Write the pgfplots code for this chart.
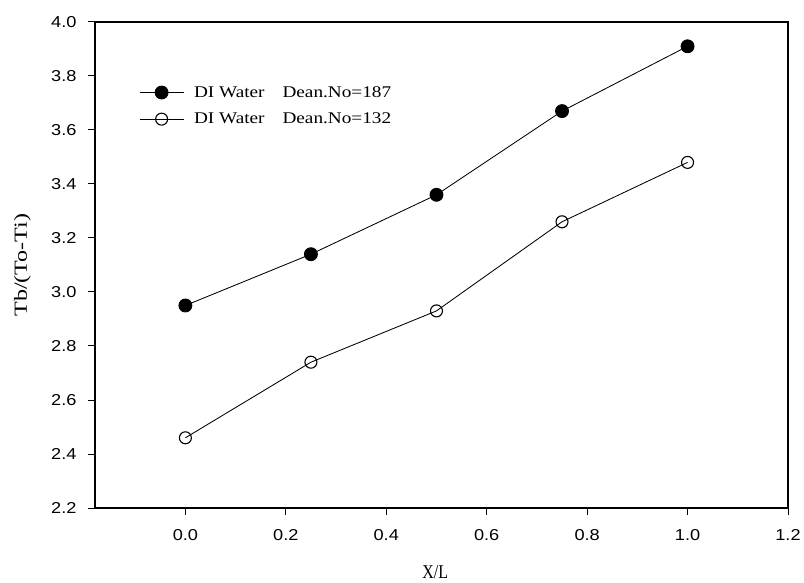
\documentclass[border=0pt]{standalone}
\usepackage{fontspec}
\setmainfont{Liberation Serif}
\newfontfamily\tickfont[FakeStretch=1.15]{Liberation Sans}
\newfontfamily\legfont[FakeStretch=1.18]{Liberation Serif}
\newfontfamily\xlabfont[FakeStretch=0.82]{Liberation Serif}
\newfontfamily\ylabfont[FakeStretch=1.3]{Liberation Serif}
\usepackage{pgfplots}
\pgfplotsset{compat=1.18}
\begin{document}
\begin{tikzpicture}
\begin{axis}[
  scale only axis,
  width=693bp, height=486bp,
  xmin=-0.18, xmax=1.2, ymin=2.2, ymax=4.0,
  xtick={0,0.2,0.4,0.6,0.8,1.0,1.2},
  ytick={2.2,2.4,2.6,2.8,3.0,3.2,3.4,3.6,3.8,4.0},
  xticklabel style={/pgf/number format/.cd,fixed,fixed zerofill,precision=1},
  yticklabel style={/pgf/number format/.cd,fixed,fixed zerofill,precision=1},
  /pgf/number format/assume math mode=true,
  ticklabel style={font=\tickfont\fontsize{15.8bp}{18bp}\selectfont},
  tick align=outside,
  major tick length=7bp,
  xtick pos=bottom, ytick pos=left,
  axis line style={line width=1.4bp},
  tick style={line width=1bp, black},
  xticklabel shift=11bp,
  yticklabel shift=8bp,
  xlabel={X/L}, ylabel={Tb/(To-Ti)},
  xlabel style={font=\xlabfont\fontsize{19.5bp}{22bp}\selectfont,
    at={(axis description cs:0.491,0)}, anchor=base, yshift=-70bp},
  ylabel style={font=\ylabfont\fontsize{18.5bp}{21bp}\selectfont,
    at={(axis description cs:-0.1046,0.5)}, anchor=center},
  legend style={draw=none, fill=none, at={(rel axis cs:0.0635,0.8687)}, anchor=north west,
    font=\legfont\fontsize{16.3bp}{19bp}\selectfont, row sep=14bp, inner sep=0pt,
    nodes={inner sep=0pt}, column sep=0pt},
  legend cell align=left,
  legend image code/.code={
    \draw[#1, mark repeat=2, mark phase=2] plot coordinates {(0bp,0bp) (22bp,0bp) (44bp,0bp)};
  },
  clip=false,
]
\addplot[black, line width=0.85bp, mark=*, mark size=6.5bp, mark options={fill=black}]
  coordinates {(0,2.95) (0.25,3.14) (0.5,3.36) (0.75,3.67) (1.0,3.91)};
\addlegendentry{\hspace{10bp}DI Water\hspace{1.1em}Dean.No=187}
\addplot[black, line width=0.85bp, mark=o, mark size=6bp, mark options={fill=white, line width=1.1bp}]
  coordinates {(0,2.46) (0.25,2.74) (0.5,2.93) (0.75,3.26) (1.0,3.48)};
\addlegendentry{\hspace{10bp}DI Water\hspace{1.1em}Dean.No=132}
\end{axis}
\useasboundingbox ([shift={(-95bp,-75bp)}]current axis.south west) rectangle ([shift={(16bp,22bp)}]current axis.north east);
\end{tikzpicture}
\end{document}
